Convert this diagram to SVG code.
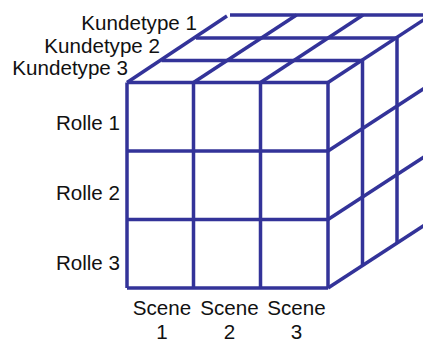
<svg xmlns="http://www.w3.org/2000/svg" width="423" height="343" viewBox="0 0 423 343">
  <style>
    .grid line, .grid path { stroke: #333399; stroke-width: 3.5; fill: none; stroke-linecap: butt; }
    .lbl { font-family: "Liberation Sans", Arial, sans-serif; font-size: 20.6px; fill: #111; }
    .end { text-anchor: end; }
    .mid { text-anchor: middle; }
  </style>
  <rect width="423" height="343" fill="#fff"/>

  <!-- Cube grid: front face, top face and right face -->
  <g id="cube" class="grid">
    <!-- front face: 3 x 3 -->
    <g id="front-face">
      <line x1="127" y1="82.5" x2="328" y2="82.5"/>
      <line x1="127" y1="151" x2="328" y2="151"/>
      <line x1="127" y1="219.5" x2="328" y2="219.5"/>
      <line x1="127" y1="288" x2="328" y2="288"/>
      <line x1="127" y1="82.5" x2="127" y2="288"/>
      <line x1="193.5" y1="82.5" x2="193.5" y2="288"/>
      <line x1="260.5" y1="82.5" x2="260.5" y2="288"/>
      <line x1="328" y1="82.5" x2="328" y2="288"/>
    </g>
    <!-- top face: depth lines and rows -->
    <g id="top-face">
      <line x1="127" y1="82.5" x2="227" y2="16"/>
      <line x1="193.5" y1="82.5" x2="296.5" y2="15"/>
      <line x1="260.5" y1="82.5" x2="363" y2="15"/>
      <line x1="328" y1="82.5" x2="431" y2="15"/>
      <line x1="161.5" y1="60.5" x2="362.5" y2="60.5"/>
      <line x1="196" y1="38" x2="397" y2="38"/>
      <line x1="230" y1="15" x2="423" y2="15"/>
    </g>
    <!-- right face -->
    <g id="right-face">
      <line x1="362.5" y1="60.5" x2="362.5" y2="265.5"/>
      <line x1="397" y1="38" x2="397" y2="243"/>
      <line x1="328" y1="151" x2="431" y2="84"/>
      <line x1="328" y1="219.5" x2="431" y2="152.5"/>
      <line x1="328" y1="288" x2="431" y2="221"/>
    </g>
  </g>

  <!-- Depth labels -->
  <g id="kundetyper">
    <text class="lbl end" x="197" y="30">Kundetype 1</text>
    <text class="lbl end" x="160" y="53">Kundetype 2</text>
    <text class="lbl end" x="128" y="75">Kundetype 3</text>
  </g>

  <!-- Row labels -->
  <g id="roller">
    <text class="lbl end" x="120" y="130">Rolle 1</text>
    <text class="lbl end" x="120" y="200">Rolle 2</text>
    <text class="lbl end" x="120" y="270">Rolle 3</text>
  </g>

  <!-- Column labels -->
  <g id="scener">
    <text class="lbl mid" x="162" y="315">Scene</text>
    <text class="lbl mid" x="162" y="339">1</text>
    <text class="lbl mid" x="229.5" y="315">Scene</text>
    <text class="lbl mid" x="229.5" y="339">2</text>
    <text class="lbl mid" x="296.5" y="315">Scene</text>
    <text class="lbl mid" x="296.5" y="339">3</text>
  </g>
</svg>
